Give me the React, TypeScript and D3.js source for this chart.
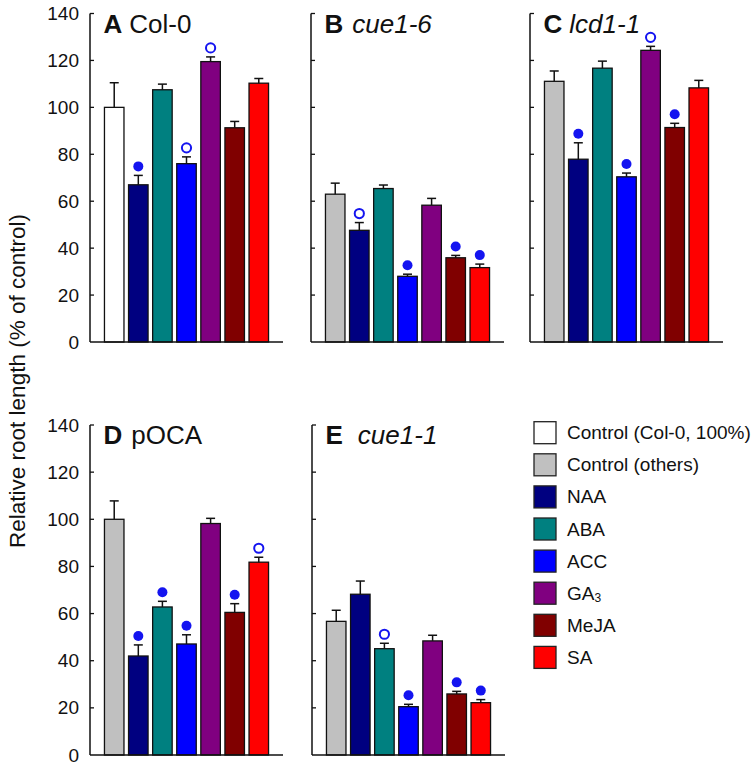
import React from "react";
import * as d3 from "d3";

const categories = ["Control", "NAA", "ABA", "ACC", "GA3", "MeJA", "SA"];
const yTicks = [0, 20, 40, 60, 80, 100, 120, 140];

const panelLetters = ["A", "B", "C", "D", "E"];
const panelNames = ["Col-0", "cue1-6", "lcd1-1", "pOCA", "cue1-1"];
const panelItalic = [false, true, true, false, true];

const valuesA = [100, 67, 107.5, 76, 119.5, 91.3, 110.3];
const errorsA = [10.5, 4, 2.4, 2.9, 2, 2.7, 2];
const marksA = [0, 1, 0, 2, 2, 0, 0];

const valuesB = [63, 47.6, 65.4, 28, 58.3, 35.9, 31.7];
const errorsB = [4.7, 3.3, 1.5, 0.9, 2.9, 1, 1.5];
const marksB = [0, 2, 0, 1, 0, 1, 1];

const valuesC = [111.1, 77.9, 116.7, 70.4, 124.3, 91.4, 108.3];
const errorsC = [4.4, 7, 3, 1.6, 1.7, 1.8, 3.2];
const marksC = [0, 1, 0, 1, 2, 1, 0];

const valuesD = [100, 42, 62.8, 47.1, 98.2, 60.5, 81.8];
const errorsD = [7.8, 4.7, 2.4, 3.9, 2.2, 3.7, 2.1];
const marksD = [0, 1, 1, 1, 0, 1, 2];

const valuesE = [56.7, 68.2, 45.1, 20.5, 48.4, 25.9, 22.2];
const errorsE = [4.7, 5.6, 2.3, 1, 2.4, 1.1, 1.3];
const marksE = [0, 0, 2, 1, 0, 1, 1];

const legendLabels = ["Control (Col-0, 100%)", "Control (others)", "NAA", "ABA", "ACC", "GA3", "MeJA", "SA"];
const legendColors = ["#ffffff", "#c0c0c0", "#000080", "#008080", "#0000ff", "#800080", "#800000", "#ff0000"];

const treatmentColors = ["#000080", "#008080", "#0000ff", "#800080", "#800000", "#ff0000"];

const FONT = "Arial, 'Liberation Sans', Helvetica, sans-serif";
const MARK = "#1414f0";

type PanelDef = {
  values: number[];
  errors: number[];
  marks: number[];
  x0: number;
  yTop: number;
  yBot: number;
  controlColor: string;
  dx: number;
};

const panels: PanelDef[] = [
  { values: valuesA, errors: errorsA, marks: marksA, x0: 90, yTop: 13.5, yBot: 342, controlColor: "#ffffff", dx: 7 },
  { values: valuesB, errors: errorsB, marks: marksB, x0: 311, yTop: 13.5, yBot: 342, controlColor: "#c0c0c0", dx: 9 },
  { values: valuesC, errors: errorsC, marks: marksC, x0: 530, yTop: 13.5, yBot: 342, controlColor: "#c0c0c0", dx: 7 },
  { values: valuesD, errors: errorsD, marks: marksD, x0: 90, yTop: 425, yBot: 755, controlColor: "#c0c0c0", dx: 9 },
  { values: valuesE, errors: errorsE, marks: marksE, x0: 312, yTop: 425, yBot: 755, controlColor: "#c0c0c0", dx: 15 },
];

const PANEL_W = 193;

function Panel({ p, idx }: { p: PanelDef; idx: number }) {
  const x = d3
    .scaleBand<string>()
    .domain(categories)
    .range([p.x0, p.x0 + PANEL_W])
    .paddingInner(0.19)
    .paddingOuter(0.6);
  const y = d3.scaleLinear().domain([0, 140]).range([p.yBot, p.yTop]);
  const bw = x.bandwidth();
  const showLabels = p.x0 < 100;
  return (
    <g>
      {categories.map((c, i) => {
        const v = p.values[i];
        const e = p.errors[i];
        const cx = (x(c) as number) + bw / 2;
        const color = i === 0 ? p.controlColor : treatmentColors[i - 1];
        const top = y(v + e);
        return (
          <g key={c}>
            <rect
              x={x(c)}
              y={y(v)}
              width={bw}
              height={y(0) - y(v)}
              fill={color}
              stroke="#111"
              strokeWidth={1.3}
            />
            <line x1={cx} x2={cx} y1={y(v)} y2={top} stroke="#111" strokeWidth={1.5} />
            <line x1={cx - 4.5} x2={cx + 4.5} y1={top} y2={top} stroke="#111" strokeWidth={1.5} />
            {p.marks[i] === 1 && <circle cx={cx} cy={top - 9} r={5} fill={MARK} />}
            {p.marks[i] === 2 && (
              <circle cx={cx} cy={top - 9} r={4.6} fill="none" stroke={MARK} strokeWidth={2} />
            )}
          </g>
        );
      })}
      <line x1={p.x0} x2={p.x0} y1={p.yTop} y2={p.yBot} stroke="#111" strokeWidth={1.5} />
      <line x1={p.x0} x2={p.x0 + PANEL_W} y1={p.yBot} y2={p.yBot} stroke="#111" strokeWidth={1.5} />
      {yTicks.map((t) => (
        <g key={t}>
          {t > 0 && (
            <line x1={p.x0} x2={p.x0 + 4} y1={y(t)} y2={y(t)} stroke="#111" strokeWidth={1.3} />
          )}
          {showLabels && (
            <text
              x={p.x0 - 11}
              y={y(t)}
              textAnchor="end"
              dominantBaseline="central"
              fontSize={19}
              fontFamily={FONT}
              fill="#111"
            >
              {t}
            </text>
          )}
        </g>
      ))}
      <text x={p.x0 + 13.5} y={p.yTop + 19} fontFamily={FONT} fontSize={26} fill="#111">
        <tspan fontWeight="bold">{panelLetters[idx]}</tspan>
        <tspan dx={p.dx} fontStyle={panelItalic[idx] ? "italic" : "normal"}>
          {panelNames[idx]}
        </tspan>
      </text>
    </g>
  );
}

export default function App() {
  return (
    <svg
      width={756}
      height={767}
      style={{ position: "absolute", left: 0, top: 0, background: "#fff" }}
      xmlns="http://www.w3.org/2000/svg"
    >
      <rect x={0} y={0} width={756} height={767} fill="#fff" />
      {panels.map((p, i) => (
        <Panel key={i} p={p} idx={i} />
      ))}
      <text
        transform="translate(25,381) rotate(-90)"
        textAnchor="middle"
        fontFamily={FONT}
        fontSize={22.5}
        fill="#111"
      >
        Relative root length (% of control)
      </text>
      {legendLabels.map((l, i) => {
        const top = 421.7 + i * 32.1;
        return (
          <g key={l}>
            <rect x={534} y={top} width={22} height={22} fill={legendColors[i]} stroke="#222" strokeWidth={1.3} />
            <text
              x={567}
              y={top + 11}
              dominantBaseline="central"
              fontFamily={FONT}
              fontSize={19}
              fill="#111"
            >
              {l === "GA3" ? (
                <>
                  GA<tspan fontSize={12} dy={5}>3</tspan>
                </>
              ) : (
                l
              )}
            </text>
          </g>
        );
      })}
    </svg>
  );
}
